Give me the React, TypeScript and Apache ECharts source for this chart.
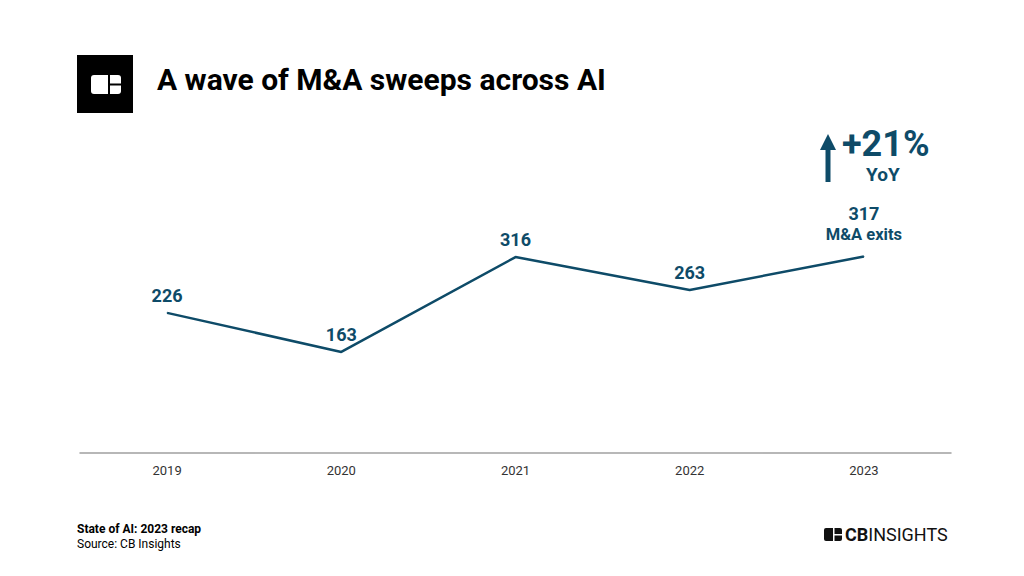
import React, { useEffect, useRef } from "react";
import * as echarts from "echarts";

const years = ["2019", "2020", "2021", "2022", "2023"];
const exits = [226, 163, 316, 263, 317];
const title = "A wave of M&A sweeps across AI";
const growthText = "+21%";
const growthSub = "YoY";
const lastLabelSub = "M&A exits";
const footerBold = "State of AI: 2023 recap";
const footerSource = "Source: CB Insights";

const C = "#0e4b68";
const FONT = "Roboto, 'Noto Sans', sans-serif";

export default function App() {
  const ref = useRef<HTMLDivElement>(null);
  useEffect(() => {
    const chart = echarts.init(ref.current!, null, { renderer: "svg" });
    chart.setOption({
      animation: false,
      backgroundColor: "#ffffff",
      textStyle: { fontFamily: FONT },
      grid: { left: 80, right: 73, top: 143, bottom: 123 },
      xAxis: {
        type: "category",
        data: years,
        boundaryGap: true,
        axisLine: { show: true, lineStyle: { color: "#a0a0a0", width: 1.5 } },
        axisTick: { show: false },
        axisLabel: { color: "#333", fontSize: 13, margin: 11, fontFamily: FONT },
      },
      yAxis: {
        type: "value",
        min: 0,
        max: 500,
        show: false,
        splitLine: { show: false },
      },
      series: [
        {
          type: "line",
          data: exits.map((v, i) =>
            i === exits.length - 1
              ? {
                  value: v,
                  label: {
                    formatter: `{a|${v}}\n{b|${lastLabelSub}}`,
                    distance: 11,
                    rich: {
                      a: { fontSize: 18, fontWeight: "bold", color: C, fontFamily: FONT, lineHeight: 22, align: "center" },
                      b: { fontSize: 16.5, fontWeight: "bold", color: C, fontFamily: FONT, lineHeight: 20, align: "center" },
                    },
                  },
                }
              : v
          ),
          showSymbol: true,
          symbol: "circle",
          symbolSize: 1,
          itemStyle: { color: C },
          lineStyle: { color: C, width: 2.5 },
          label: {
            show: true,
            position: "top",
            distance: 8,
            color: C,
            fontSize: 18,
            fontWeight: "bold",
            fontFamily: FONT,
          },
        },
      ],
      graphic: [
        // logo square
        { type: "rect", left: 77, top: 55, shape: { width: 56, height: 58 }, style: { fill: "#000" } },
        { type: "rect", left: 91, top: 75, shape: { width: 30, height: 19, r: 3 }, style: { fill: "#fff" } },
        { type: "rect", left: 108, top: 74, shape: { width: 2, height: 21 }, style: { fill: "#000" } },
        { type: "rect", left: 109, top: 83.5, shape: { width: 13, height: 2 }, style: { fill: "#000" } },
        {
          type: "text",
          left: 157,
          top: 64,
          style: { text: title, fontSize: 30, fontWeight: "bold", fill: "#000", fontFamily: FONT },
        },
        // arrow
        { type: "rect", left: 825.5, top: 147, shape: { width: 5, height: 35 }, style: { fill: C } },
        {
          type: "polygon",
          shape: { points: [[828, 134], [820, 150], [836, 150]] },
          style: { fill: C },
        },
        {
          type: "text",
          left: 842,
          top: 126,
          style: { text: growthText, fontSize: 36, fontWeight: "bold", fill: C, fontFamily: FONT },
        },
        {
          type: "text",
          left: 866,
          top: 165,
          style: { text: growthSub, fontSize: 19, fontWeight: "bold", fill: C, fontFamily: FONT },
        },
        // footer
        {
          type: "text",
          left: 77,
          top: 523,
          style: { text: footerBold, fontSize: 12, fontWeight: "bold", fill: "#000", fontFamily: FONT },
        },
        {
          type: "text",
          left: 77,
          top: 538,
          style: { text: footerSource, fontSize: 12, fill: "#000", fontFamily: FONT },
        },
        // CB Insights logo
        { type: "rect", left: 824, top: 528, shape: { width: 18, height: 13, r: 2 }, style: { fill: "#111" } },
        { type: "rect", left: 833, top: 527, shape: { width: 1.5, height: 15 }, style: { fill: "#fff" } },
        { type: "rect", left: 834, top: 534, shape: { width: 9, height: 1.5 }, style: { fill: "#fff" } },
        {
          type: "text",
          left: 845,
          top: 525,
          style: {
            text: "{a|CB}{b|INSIGHTS}",
            rich: {
              a: { fontSize: 18, fontWeight: "bold", fill: "#111", fontFamily: FONT },
              b: { fontSize: 18, fontWeight: "normal", fill: "#111", fontFamily: FONT },
            },
          },
        },
      ],
    });
    return () => chart.dispose();
  }, []);
  return (
    <div
      ref={ref}
      style={{ position: "fixed", left: 0, top: 0, width: 1024, height: 576, background: "#fff" }}
    />
  );
}
